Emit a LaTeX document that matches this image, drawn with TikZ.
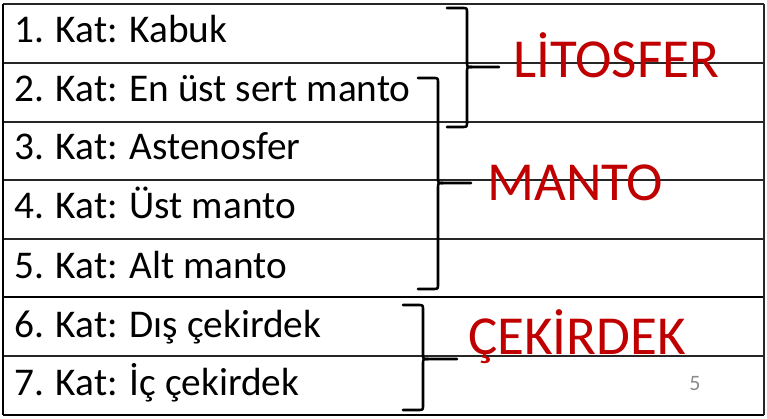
\documentclass[tikz,border=0pt]{standalone}
\usepackage{fontspec}
\setmainfont{Carlito}
\definecolor{labred}{HTML}{C00000}
\definecolor{pggray}{HTML}{8C8C8C}
\tikzset{
  rowtext/.style={anchor=base west, inner sep=0pt, font=\fontsize{39.3}{41}\selectfont, text=black},
  grouplabel/.style={anchor=base west, inner sep=0pt, font=\fontsize{55}{58}\selectfont, text=labred},
  gridline/.style={line width=1.3pt, draw=black!85},
  bracestyle/.style={line width=2.6pt, draw=black, line join=round, line cap=round},
}
% brace: #1 left x, #2 vertical x, #3 top y, #4 bottom y, #5 tip y, #6 tip end x
\newcommand\mybrace[6]{%
  \draw[bracestyle] (#1,#3) -- ({#2-5},#3) .. controls (#2,#3) .. ({#2},{#3+5})
    -- (#2,{#5-5}) .. controls (#2,#5) .. ({#2+5},#5) -- (#6,#5);
  \draw[bracestyle] ({#2+5},#5) .. controls (#2,#5) .. (#2,{#5+5})
    -- (#2,{#4-5}) .. controls (#2,#4) .. ({#2-5},#4) -- (#1,#4);
}
\begin{document}
\begin{tikzpicture}[x=1pt,y=-1pt]
\useasboundingbox (0,0) rectangle (767,419);
\fill[white] (0,0) rectangle (767,419);
% table
\draw[gridline] (3,4) -- (764,4);
\foreach \yy in {63,122,180,239,356} \draw[gridline] (3,\yy) -- (764,\yy);
\draw[line width=2.6pt] (3,297) -- (764,297);
\draw[line width=2.2pt] (3,415) -- (764,415);
\draw[line width=2pt] (3,4) -- (3,415);
\draw[gridline] (764,4) -- (764,415);
% row texts
\node[rowtext] (r1) at (14,43) {1. Kat: Kabuk};
\node[rowtext] (r2) at (14,102) {2. Kat: En üst sert manto};
\node[rowtext] (r3) at (14,160) {3. Kat: Astenosfer};
\node[rowtext] (r4) at (14,219) {4. Kat: Üst manto};
\node[rowtext] (r5) at (14,278) {5. Kat: Alt manto};
\node[rowtext] (r6) at (14,337) {6. Kat: Dış çekirdek};
\node[rowtext] (r7) at (14,395) {7. Kat: İç çekirdek};
% braces
\mybrace{447}{467}{8}{127}{67}{499}
\mybrace{418}{438}{78}{289}{183}{471}
\mybrace{403}{423}{305}{410}{359}{457}
% labels
\node[grouplabel] (lit) at (513,78) {LİTOSFER};
\node[grouplabel] (man) at (487,201) {MANTO};
\node[grouplabel] (cek) at (468,354) {ÇEKİRDEK};
\node[anchor=base, inner sep=0pt, font=\fontsize{22}{24}\selectfont, text=pggray] (pg) at (695,390) {5};
\end{tikzpicture}
\end{document}
